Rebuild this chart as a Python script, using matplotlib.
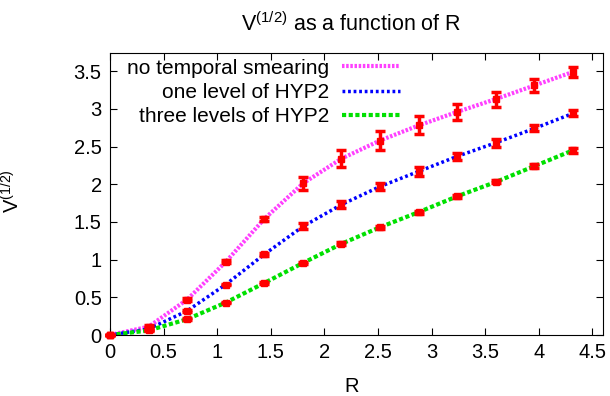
import numpy as np
import matplotlib
matplotlib.use('Agg')
import matplotlib.pyplot as plt
from matplotlib.ticker import FormatStrFormatter

plt.rcParams['font.family'] = ['Liberation Sans', 'DejaVu Sans']
plt.rcParams['mathtext.fontset'] = 'custom'
plt.rcParams['mathtext.rm'] = 'Liberation Sans'

# data
R = [0.0, 0.36, 0.72, 1.08, 1.44, 1.80, 2.16, 2.52, 2.88, 3.24, 3.60, 3.96, 4.32]

v_none = [0.0, 0.11, 0.47, 0.97, 1.54, 2.01, 2.34, 2.58, 2.78, 2.96, 3.13, 3.31, 3.49]
e_none = [0.0, 0.02, 0.02, 0.02, 0.03, 0.08, 0.11, 0.12, 0.12, 0.11, 0.10, 0.09, 0.07]

v_hyp1 = [0.0, 0.08, 0.32, 0.67, 1.07, 1.44, 1.73, 1.97, 2.17, 2.37, 2.55, 2.74, 2.94]
e_hyp1 = [0.0, 0.02, 0.01, 0.01, 0.02, 0.04, 0.05, 0.05, 0.06, 0.05, 0.05, 0.04, 0.04]

v_hyp3 = [0.0, 0.06, 0.21, 0.43, 0.69, 0.955, 1.21, 1.43, 1.63, 1.84, 2.03, 2.24, 2.45]
e_hyp3 = [0.0, 0.01, 0.01, 0.01, 0.01, 0.01, 0.02, 0.02, 0.02, 0.02, 0.02, 0.03, 0.03]

labels = ['no temporal smearing', 'one level of HYP2', 'three levels of HYP2']

fs = 14.5

fig = plt.figure(figsize=(6.1, 3.96), dpi=100)
ax = fig.add_axes([0.1803, 0.154, 0.8082, 0.712])

ax.plot(R, v_none, color='#ff40ff', lw=3, ls=(0, (0.6, 0.4)), label=labels[0], zorder=2)
ax.plot(R, v_hyp1, color='#0000ff', lw=2.5, ls=(0, (0.8, 0.8)), label=labels[1], zorder=2)
ax.plot(R, v_hyp3, color='#00e000', lw=3, ls=(0, (1.0, 0.6)), label=labels[2], zorder=2)

for v, e in [(v_none, e_none), (v_hyp1, e_hyp1), (v_hyp3, e_hyp3)]:
    ax.errorbar(R, v, yerr=e, fmt='s', color='#ff0000', ms=5, mec='#ff0000',
                elinewidth=2.5, capsize=3.5, capthick=2.5, zorder=3, clip_on=False)

ax.set_xlim(0, 4.6)
ax.set_ylim(0, 3.74)
ax.set_xticks(np.arange(0, 4.51, 0.5))
ax.set_yticks(np.arange(0, 3.51, 0.5))
ax.xaxis.set_major_formatter(FormatStrFormatter('%g'))
ax.yaxis.set_major_formatter(FormatStrFormatter('%g'))
ax.tick_params(direction='in', top=True, right=True, length=5, labelsize=fs, pad=6)

ax.set_xlabel('R', fontsize=fs)
ax.xaxis.set_label_coords(0.49, -0.148)
ax.set_ylabel(r'V$^{\mathrm{(1/2)}}$', fontsize=fs)
ax.yaxis.set_label_coords(-0.175, 0.51)
ax.set_title(r'V$^{\mathrm{(1/2)}}$ as a function of R', fontsize=15.5, pad=16, x=0.49)

leg = ax.legend(loc='upper left', frameon=False, markerfirst=False, fontsize=15,
                handlelength=2.75, handletextpad=0.62, labelspacing=0.25,
                bbox_to_anchor=(0.035, 0.98), borderaxespad=0, borderpad=0)
for t in leg.get_texts():
    t.set_ha('right')
leg._legend_box.align = 'right'

fig.savefig('out.png', dpi=100)
